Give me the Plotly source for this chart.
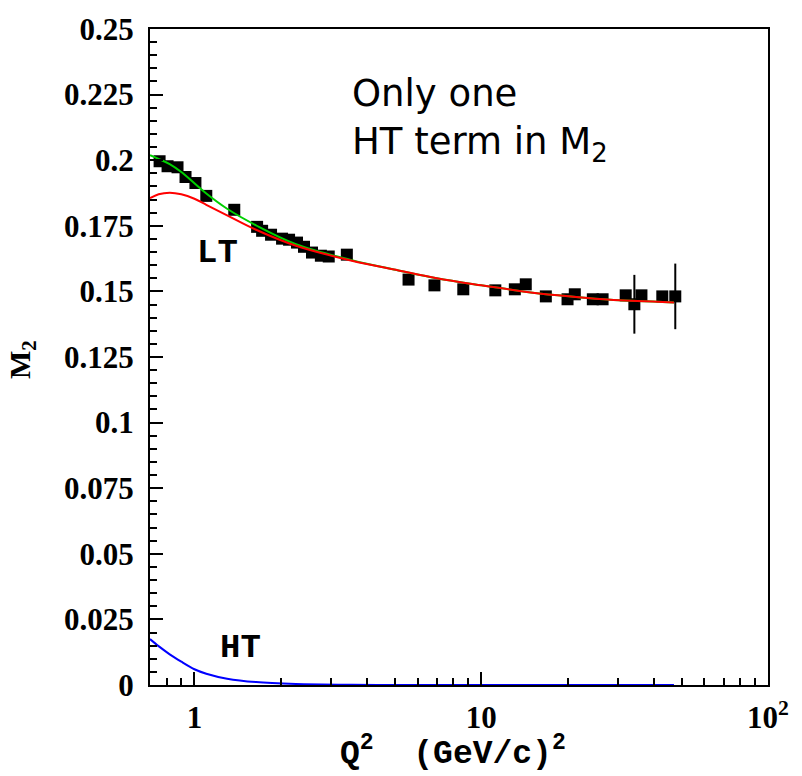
import math
import plotly.graph_objects as go

# ---- data points (Q^2, M2, error) ----
q2_data = [0.756, 0.806, 0.873, 0.931, 1.008, 1.10, 1.377, 1.654, 1.722, 1.850,
           2.021, 2.138, 2.279, 2.41, 2.57, 2.76, 2.94, 3.40,
           5.58, 6.87, 8.66, 11.2, 13.1, 14.3, 16.8, 20.0, 21.2, 24.5,
           26.5, 31.9, 34.2, 36.2, 42.8, 47.5]
m2_data = [0.1996, 0.1977, 0.1973, 0.1936, 0.1913, 0.1864, 0.1811, 0.1746, 0.1731, 0.1716,
           0.1701, 0.1697, 0.1686, 0.1670, 0.1648, 0.1636, 0.1633, 0.1640,
           0.1545, 0.1523, 0.1508, 0.1504, 0.1508, 0.1527, 0.1481, 0.1470, 0.1489, 0.1470,
           0.1470, 0.1485, 0.1451, 0.1485, 0.1481, 0.1481]
m2_err = [0.002] * 30 + [0.0112, 0.002, 0.002, 0.0125]

# ---- curves ----
lt_x = [0.7, 0.75, 0.82, 0.9, 1.0, 1.1, 1.3, 1.64, 2.26, 3.54, 5.15, 7.0, 10, 14, 18.5, 25, 35, 47]
lt_y = [0.1855, 0.1870, 0.1876, 0.1870, 0.1853, 0.1830, 0.1790, 0.1735, 0.1674, 0.1617,
        0.1580, 0.1550, 0.1523, 0.1500, 0.1485, 0.1472, 0.1463, 0.1458]
tot_x = [0.7, 0.75, 0.82, 0.9, 1.0, 1.1, 1.3, 1.64, 2.26, 3.54, 5.15, 7.0, 10, 14, 18.5, 25, 35, 47]
tot_y = [0.2019, 0.2005, 0.1985, 0.1955, 0.1912, 0.1873, 0.1815, 0.1752, 0.1680, 0.1619,
         0.1580, 0.1550, 0.1523, 0.1500, 0.1485, 0.1472, 0.1463, 0.1458]
ht_x = [0.7, 0.75, 0.82, 0.9, 1.0, 1.1, 1.3, 1.64, 2.26, 3.54, 5.15, 10, 20, 47]
ht_y = [0.0175, 0.0148, 0.0117, 0.0089, 0.0060, 0.0043, 0.0024, 0.0011, 0.0004, 0.0001,
        0.0, 0.0, 0.0, 0.0]

y_ticks = [0, 0.025, 0.05, 0.075, 0.1, 0.125, 0.15, 0.175, 0.2, 0.225, 0.25]
y_ticktext = ["0", "0.025", "0.05", "0.075", "0.1", "0.125", "0.15", "0.175", "0.2", "0.225", "0.25"]
x_ticks = [1, 10, 100]
x_ticktext = ["1", "10", "10<sup>2</sup>"]
x_minor = [0.7, 0.8, 0.9, 2, 3, 4, 5, 6, 7, 8, 9, 20, 30, 40, 50, 60, 70, 80, 90]
y_minor = [round(i * 0.005, 3) for i in range(51)]

W, H = 802, 776
L, R, T, B = 150, 34, 25, 91
pw, ph = W - L - R, H - T - B


def px_x(px):
    return (px - L) / pw


def px_y(py):
    return (H - B - py) / ph


fig = go.Figure()
fig.add_trace(go.Scatter(
    x=q2_data, y=m2_data, mode="markers",
    marker=dict(symbol="square", size=12, color="black"),
    error_y=dict(type="data", array=m2_err, color="black", thickness=2, width=0),
    showlegend=False))
fig.add_trace(go.Scatter(x=tot_x, y=tot_y, mode="lines", line=dict(color="#00d000", width=2, shape="spline"), showlegend=False))
fig.add_trace(go.Scatter(x=lt_x, y=lt_y, mode="lines", line=dict(color="#ff0000", width=2, shape="spline"), showlegend=False))
fig.add_trace(go.Scatter(x=ht_x, y=ht_y, mode="lines", line=dict(color="#0000ff", width=2, shape="spline", smoothing=0.8), showlegend=False))

fig.update_layout(
    width=W, height=H,
    margin=dict(l=L, r=R, t=T, b=B),
    paper_bgcolor="white", plot_bgcolor="white",
    xaxis=dict(type="log", range=[math.log10(0.7), 2],
               tickvals=x_ticks, ticktext=x_ticktext, ticks="inside", ticklen=13,
               tickwidth=1.5, tickcolor="black", ticklabelstandoff=4,
               minor=dict(tickvals=x_minor, ticks="inside", ticklen=7, tickwidth=1.5, tickcolor="black"),
               showline=True, linecolor="black", linewidth=2, mirror=True,
               showgrid=False, zeroline=False,
               tickfont=dict(family="Liberation Serif", size=31, color="black", weight="bold")),
    yaxis=dict(range=[0, 0.25], tickvals=y_ticks, ticktext=y_ticktext,
               ticks="inside", ticklen=13, tickwidth=1.5, tickcolor="black", ticklabelstandoff=8,
               minor=dict(tickvals=y_minor, ticks="inside", ticklen=7, tickwidth=1.5, tickcolor="black"),
               showline=True, linecolor="black", linewidth=2, mirror=True,
               showgrid=False, zeroline=False,
               tickfont=dict(family="Liberation Serif", size=31, color="black", weight="bold")),
)

fig.add_annotation(x=math.log10(1.2), y=0.1645, xref="x", yref="y", text="<b>LT</b>", showarrow=False,
                   xanchor="center", yanchor="middle",
                   font=dict(family="Liberation Mono", size=34, color="black"))
fig.add_annotation(x=math.log10(1.45), y=0.0140, xref="x", yref="y", text="<b>HT</b>", showarrow=False,
                   xanchor="center", yanchor="middle",
                   font=dict(family="Liberation Mono", size=34, color="black"))
fig.add_annotation(x=px_x(350), y=px_y(66), xref="paper", yref="paper",
                   text="Only one<br>HT term in M<sub>2</sub>",
                   showarrow=False, xanchor="left", yanchor="top", align="left",
                   font=dict(family="DejaVu Sans", size=37, color="black"))
fig.add_annotation(x=px_x(453), y=px_y(752), xref="paper", yref="paper",
                   text="<b>Q<sup>2</sup>  (GeV/c)<sup>2</sup></b>", showarrow=False,
                   xanchor="center", yanchor="middle",
                   font=dict(family="Liberation Mono", size=33, color="black"))
fig.add_annotation(x=px_x(22), y=px_y(358), xref="paper", yref="paper",
                   text="<b>M<sub>2</sub></b>", showarrow=False, textangle=-90,
                   xanchor="center", yanchor="middle",
                   font=dict(family="Liberation Serif", size=30, color="black"))

fig.write_html("out.html")
